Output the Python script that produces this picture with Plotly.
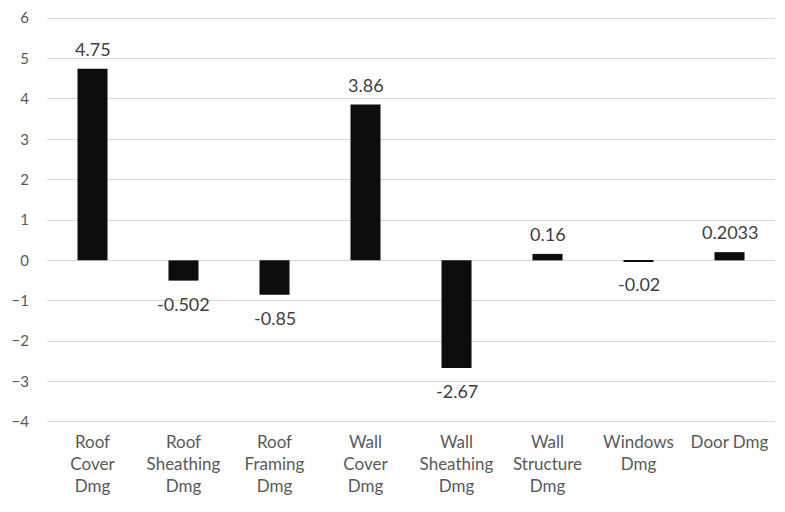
import plotly.graph_objects as go

categories = ["Roof<br>Cover<br>Dmg", "Roof<br>Sheathing<br>Dmg", "Roof<br>Framing<br>Dmg",
              "Wall<br>Cover<br>Dmg", "Wall<br>Sheathing<br>Dmg", "Wall<br>Structure<br>Dmg",
              "Windows<br>Dmg", "Door Dmg"]
values = [4.75, -0.502, -0.85, 3.86, -2.67, 0.16, -0.02, 0.2033]
value_labels = ["4.75", "-0.502", "-0.85", "3.86", "-2.67", "0.16", "-0.02", "0.2033"]
y_ticks = [-4, -3, -2, -1, 0, 1, 2, 3, 4, 5, 6]

font_family = "Lato, 'Open Sans', 'Liberation Sans', sans-serif"
text_color = "#595959"

fig = go.Figure(go.Bar(
    x=categories, y=values,
    marker=dict(color="#0d0d0d", line=dict(width=0)),
    hoverinfo="x+y",
))

for cat, val, lab in zip(categories, values, value_labels):
    pos = val >= 0
    fig.add_annotation(
        x=cat, y=val, text=lab, showarrow=False,
        yanchor="bottom" if pos else "top",
        yshift=7 if pos else -10,
        font=dict(family=font_family, size=18, color="#404040"),
    )

# page body has an 8px default margin, so the figure is sized to fit inside it
fig.update_layout(
    width=777, height=504,
    margin=dict(l=39, r=10, t=9, b=89, autoexpand=False),
    paper_bgcolor="white", plot_bgcolor="white",
    bargap=0.67, showlegend=False,
    font=dict(family=font_family, color=text_color, size=16),
)
fig.update_yaxes(range=[-4.03, 6.03], tickvals=y_ticks, showgrid=True, gridcolor="#d9d9d9", gridwidth=1,
                 zeroline=True, zerolinecolor="#d9d9d9", zerolinewidth=1, showline=False,
                 automargin=False, ticklabelstandoff=17, ticklabeloverflow="allow",
                 tickfont=dict(size=15, color=text_color))
fig.update_xaxes(showgrid=False, showline=False, tickfont=dict(size=17, color=text_color),
                 automargin=False, tickangle=0, ticklabelstandoff=7)

fig.write_html("out.html")
